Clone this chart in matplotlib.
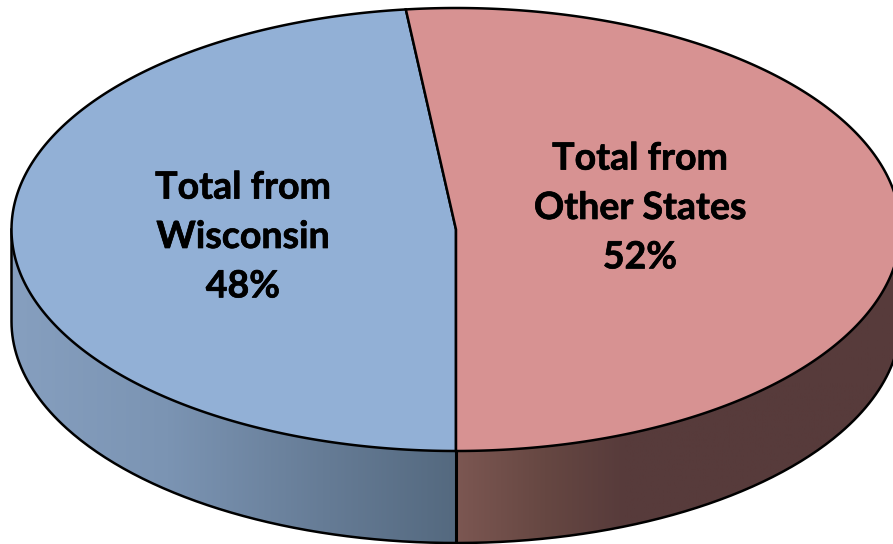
import numpy as np
import matplotlib
matplotlib.use("Agg")
import matplotlib.pyplot as plt
import matplotlib.patheffects as pe
from matplotlib.colors import LinearSegmentedColormap
from matplotlib.patches import Polygon

labels = ["Total from\nWisconsin\n48%", "Total from\nOther States\n52%"]
values = [48.2, 51.8]
top_colors = ["#92B0D6", "#D79292"]

W, H = 893, 544
cx, cy, rx, ry, depth = 456, 229.5, 444.5, 221.5, 92
label_xy = [(243, 237), (640, 208)]

fig = plt.figure(figsize=(W / 100, H / 100), dpi=100)
ax = fig.add_axes([0, 0, 1, 1])
ax.set_xlim(0, W)
ax.set_ylim(H, 0)
ax.axis("off")


def arc(a0, a1, dy=0.0, n=300):
    t = np.radians(np.linspace(a0, a1, n))
    return np.column_stack([cx + rx * np.sin(t), cy - ry * np.cos(t) + dy])


LW = 1.8
angles = 180 + np.cumsum([0] + values) / sum(values) * 360

# side walls
blue_cmap = LinearSegmentedColormap.from_list("b", [(0, "#869FBF"), (0.35, "#7B94B3"), (0.7, "#667C96"), (1, "#54697F")])
red_cmap = LinearSegmentedColormap.from_list("r", [(0, "#7C5752"), (0.2, "#664742"), (0.38, "#573B3B"), (1, "#573B3B")])
walls = [
    (arc(180, 270), blue_cmap, (cx - rx, cx)),
    (arc(90, 180), red_cmap, (cx, cx + rx)),
]
for top_edge, cmap, (x0, x1) in walls:
    bottom_edge = top_edge[::-1] + [0, depth]
    poly = Polygon(np.vstack([top_edge, bottom_edge]), closed=True, fc="none", ec="none")
    ax.add_patch(poly)
    grad = np.linspace(0, 1, 256).reshape(1, -1)
    im = ax.imshow(grad, cmap=cmap, extent=(x0, x1, cy + ry + depth, cy), aspect="auto", zorder=1)
    im.set_clip_path(poly)
ax.set_xlim(0, W)
ax.set_ylim(H, 0)

# side outline as one continuous path
outline = np.vstack([[[cx + rx, cy]], arc(90, 270, depth), [[cx - rx, cy]]])
ax.plot(*outline.T, color="black", lw=LW, zorder=2)
ax.plot([cx, cx], [cy + ry, cy + ry + depth], color="black", lw=LW + 0.4, zorder=2)

# top slices
for i, color in enumerate(top_colors):
    pts = np.vstack([[cx, cy], arc(angles[i], angles[i + 1])])
    ax.add_patch(Polygon(pts, closed=True, fc=color, ec="black", lw=LW, joinstyle="miter", zorder=3))

for (x, y), label in zip(label_xy, labels):
    ax.text(x, y, label, ha="center", va="center", family="Lato", weight="bold",
            fontsize=27, linespacing=1.55, color="black", zorder=4,
            path_effects=[pe.withStroke(linewidth=0.5, foreground="black")])

fig.savefig("out.png", dpi=100)
